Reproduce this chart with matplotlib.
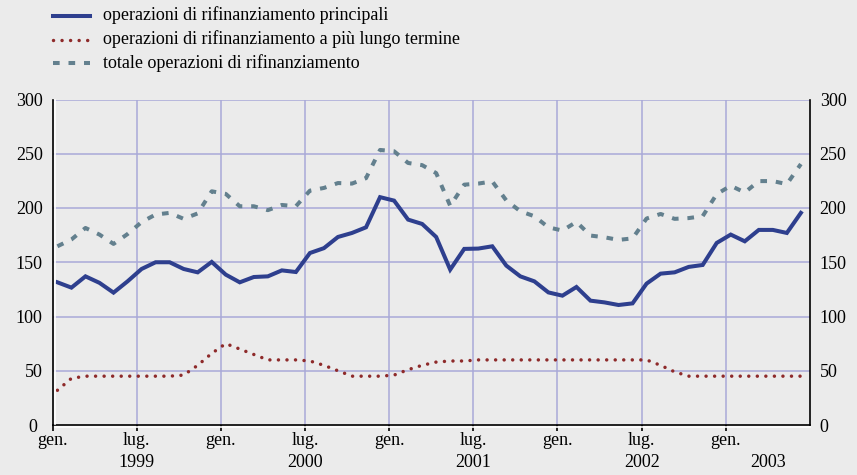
import matplotlib
matplotlib.use("Agg")
import matplotlib.pyplot as plt
import matplotlib.transforms as mtransforms
from matplotlib.lines import Line2D

plt.rcParams['font.family'] = ['Liberation Serif', 'DejaVu Serif']

# dati mensili, gen. 1999 - giu. 2003 (miliardi di euro)
principali = [131.5, 126.6, 137, 131, 122, 132.4, 143.8, 150, 150, 143.8,
              140.7, 150.3, 138.6, 131.5, 136.4, 137, 142.5, 141, 158.5, 163,
              173.3, 177, 182.2, 210, 206.8, 189.3, 185.3, 173.3, 143.2, 162.3,
              162.6, 164.7, 146.9, 137, 132.4, 122.2, 119.2, 127.2, 114.6, 113,
              110.6, 112.1, 130.3, 139.5, 140.7, 145.7, 147.5, 167.8, 175.5, 169.3,
              179.8, 179.8, 177, 195.5]
lungo_termine = [32, 43, 45, 45, 45, 45, 45, 45, 45, 46,
                 55, 66, 75, 70, 65, 60, 60, 60, 59, 55,
                 50, 45, 45, 45, 46, 51, 55, 58, 59, 59,
                 60, 60, 60, 60, 60, 60, 60, 60, 60, 60,
                 60, 60, 60, 55, 49, 45, 45, 45, 45, 45,
                 45, 45, 45, 45]
totale = [164.7, 171, 181.6, 175.5, 166.9, 176, 187, 194, 195.5, 190,
          195, 215.4, 213, 201.6, 201.6, 198, 202.8, 201.6, 216, 218.5,
          223, 222.5, 227.5, 253.5, 252.3, 241.5, 239.5, 232.2, 202, 221.5,
          222.5, 224.5, 207, 197, 192.4, 182.2, 179.2, 187.2, 174.6, 173,
          170.6, 172, 190.3, 194.5, 190, 190.7, 192.5, 212.8, 220.5, 214.3,
          224.8, 224.8, 222, 240.5]
anni = ['1999', '2000', '2001', '2002', '2003']
etichette = ['operazioni di rifinanziamento principali',
             'operazioni di rifinanziamento a più lungo termine',
             'totale operazioni di rifinanziamento']

BG = '#EBEBEB'
C_PRINC = '#2E3F8E'
C_LUNGO = '#8E2A2A'
C_TOT = '#63808E'
C_GRID = '#A9A9D8'
FS = 13

fig = plt.figure(figsize=(8.57, 4.75), dpi=100, facecolor=BG)
W, H = 857, 475
L, R, T, B = 52.5, 810, 99.5, 425
ax = fig.add_axes([L / W, 1 - B / H, (R - L) / W, (B - T) / H])
ax.set_facecolor(BG)

x = [i + 0.35 for i in range(len(principali))]

stili = [
    dict(color=C_PRINC, lw=2.9, ls='-', solid_joinstyle='miter'),
    dict(color=C_LUNGO, lw=2.5, ls=(0, (0.01, 2.45)), dash_capstyle='round'),
    dict(color=C_TOT, lw=2.9, ls=(0, (1.65, 2.2)), dash_capstyle='butt'),
]
for serie, st in zip([principali, lungo_termine, totale], stili):
    ax.plot(x, serie, zorder=3, **st)

ax.set_xlim(0, 54)
ax.set_ylim(0, 300)

# griglia
for m in range(6, 54, 6):
    ax.axvline(m, color=C_GRID, lw=1.1, zorder=1)
for v in range(50, 301, 50):
    ax.axhline(v, color=C_GRID, lw=1.1, zorder=1)

# assi
ax.spines['top'].set_visible(False)
for s in ['left', 'right', 'bottom']:
    ax.spines[s].set_color('black')
    ax.spines[s].set_linewidth(1.2)
    ax.spines[s].set_zorder(5)

# filo bianco accanto agli assi
fig.add_artist(Line2D([(L + 2) / W, (L + 2) / W], [1 - (B - 1) / H, 1 - T / H],
                      color='white', lw=1.2))
fig.add_artist(Line2D([(L + 2) / W, R / W], [1 - (B + 2) / H, 1 - (B + 2) / H],
                      color='white', lw=1.2))

ax.set_yticks(range(0, 301, 50))
ax.tick_params(axis='y', length=0, labelsize=FS, pad=7,
               left=True, right=True, labelleft=True, labelright=True)

mesi = list(range(0, 54, 6))
ax.set_xticks(mesi)
ax.set_xticklabels(['gen.' if m % 12 == 0 else 'lug.' for m in mesi])
ax.tick_params(axis='x', length=4, width=1.2, direction='out', labelsize=FS, pad=1)

# lo "0" di sinistra un po' spostato per non toccare "gen."
fig.canvas.draw()
zero = ax.yaxis.get_majorticklabels()[0]
zero.set_transform(zero.get_transform() +
                   mtransforms.ScaledTranslation(-6 / 100, 0, fig.dpi_scale_trans))

pos_anni = [6, 18, 30, 42, 51]
for p, a in zip(pos_anni, anni):
    ax.text(p, -34.5, a, ha='center', va='center', fontsize=FS,
            transform=ax.transData, clip_on=False)

# legenda
righe_y = [15.5, 39.5, 63]
for st, lab, yy in zip(stili, etichette, righe_y):
    yf = 1 - yy / H
    fig.add_artist(Line2D([53 / W, 90 / W], [yf, yf], **st))
    fig.text(103 / W, yf, lab, ha='left', va='center', fontsize=FS)

fig.savefig('out.png', dpi=100, facecolor=BG)
